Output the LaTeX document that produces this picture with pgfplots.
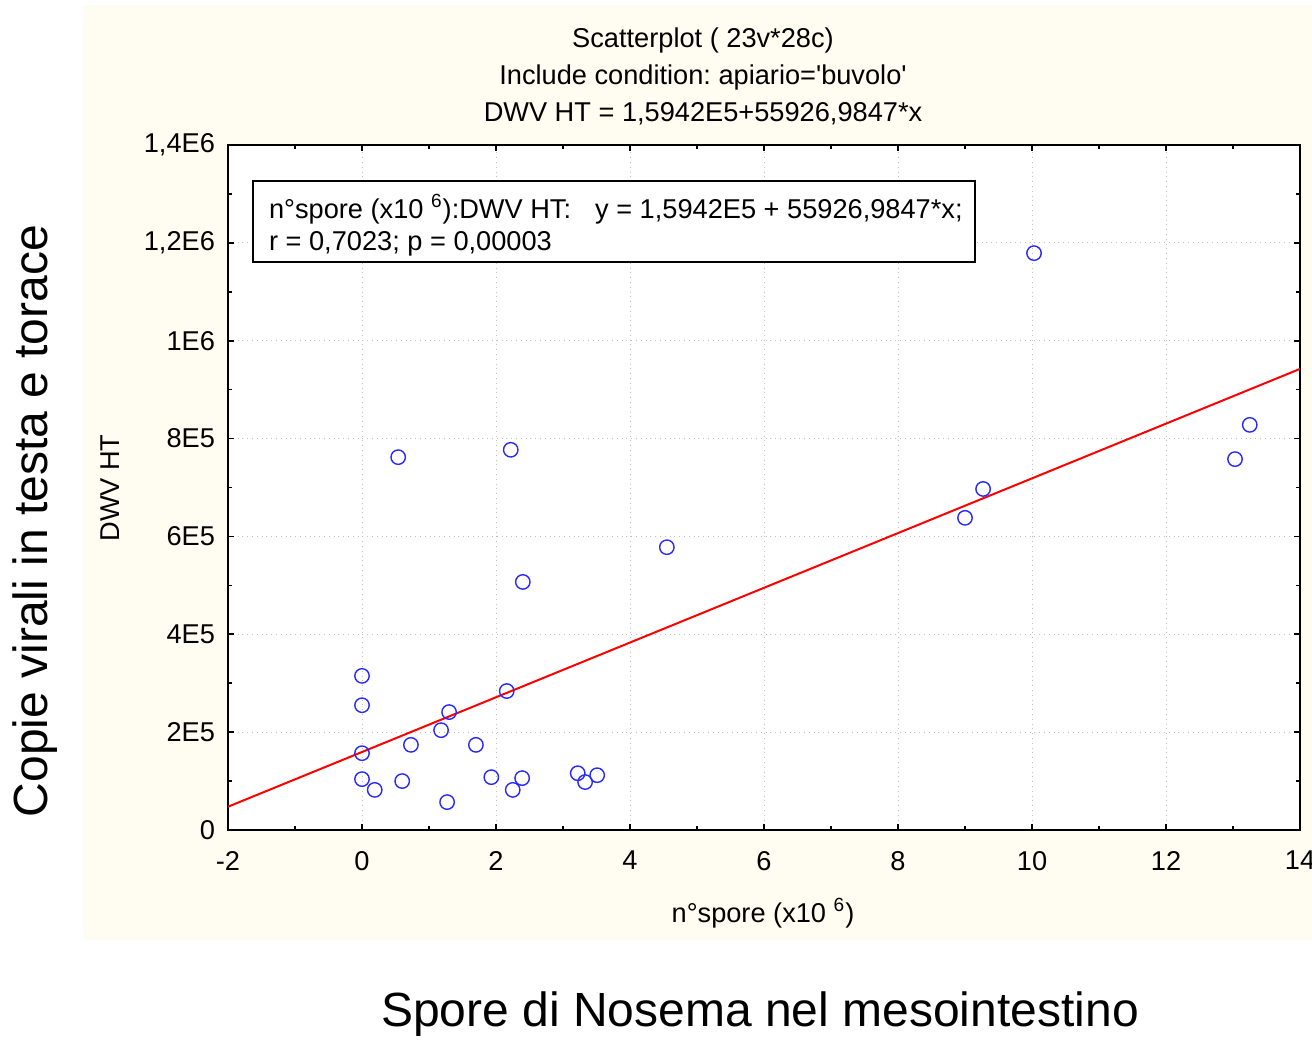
\documentclass[border=0pt]{standalone}
\usepackage{pgfplots}
\pgfplotsset{compat=1.18}
\usepackage{fontspec}
\setmainfont{Liberation Sans}
\frenchspacing
\definecolor{panel}{RGB}{255,252,241}
\definecolor{ptblue}{RGB}{40,40,255}
\definecolor{gridgray}{RGB}{190,190,190}

\pgfplotstableread{
x y
0.00 315000
0.00 255000
0.00 157000
0.00 104000
0.19 82000
0.54 762000
0.60 100000
0.73 174000
1.18 204000
1.30 241000
1.27 57000
1.70 174000
1.93 108000
2.16 284000
2.22 777000
2.25 82000
2.40 507000
2.39 106000
3.22 116000
3.33 98000
3.51 112000
4.55 578000
9.00 638000
9.27 697000
10.03 1179000
13.03 758000
13.25 828000
}\spores

\begin{document}
\begin{tikzpicture}
\useasboundingbox (0,0) rectangle (656pt,520pt);
\begin{scope}[x=0.5pt,y=0.5pt]
\fill[panel] (83,100) rectangle (1312,1035);
\end{scope}
\begin{axis}[
  at={(114pt,105pt)}, anchor=south west,
  scale only axis, width=536pt, height=342.5pt,
  xmin=-2, xmax=14, ymin=0, ymax=1400000,
  axis background/.style={fill=white},
  axis line style={line width=1pt},
  xtick={-2,0,...,14}, minor xtick={-1,1,...,13},
  ytick={0,200000,...,1400000}, minor ytick={100000,300000,...,1300000},
  xticklabels={-2,0,2,4,6,8,10,12,14},
  yticklabels={0,2E5,4E5,6E5,8E5,1E6,{1,2E6},{1,4E6}},
  scaled y ticks=false,
  tick align=inside,
  major tick length=3pt, minor tick length=2pt,
  tick style={black, line width=0.8pt},
  xmajorgrids, ymajorgrids,
  major grid style={gridgray, dotted, line width=0.5pt},
  ticklabel style={font=\fontsize{13.6}{16}\selectfont},
  xticklabel style={yshift=-7pt},
  yticklabel style={xshift=-3pt},
]
\addplot[only marks, mark=o, mark size=3.6pt, mark options={ptblue, line width=0.7pt}] table {\spores};
\addplot[red, line width=1pt] coordinates {(-2,47566) (14,942398)};
\end{axis}
\begin{scope}[x=0.5pt,y=0.5pt]
\draw[line width=1pt, fill=white] (253,859) rectangle (975,778);
\node[anchor=west, align=left, font=\fontsize{13.6}{16}\selectfont] at (262,815)
  {n°spore (x10 \textsuperscript{6}):DWV HT:\hspace{12pt}y = 1,5942E5 + 55926,9847*x;\\ r = 0,7023; p = 0,00003};
\node[align=center, font=\fontsize{13.6}{18.5}\selectfont] at (703,964)
  {Scatterplot ( 23v*28c)\\ Include condition: apiario=\textquotesingle buvolo\textquotesingle\\ DWV HT = 1,5942E5+55926,9847*x};
\node[rotate=90, font=\fontsize{13.6}{16}\selectfont] at (110,552) {DWV HT};
\node[font=\fontsize{13.6}{16}\selectfont] at (763,127) {n°spore (x10 \textsuperscript{6})};
\node[rotate=90, font=\fontsize{24}{28}\selectfont] at (35,519) {Copie virali in testa e torace};
\node[font=\fontsize{24}{28}\selectfont] at (760,26) {Spore di Nosema nel mesointestino};
\end{scope}
\end{tikzpicture}
\end{document}
